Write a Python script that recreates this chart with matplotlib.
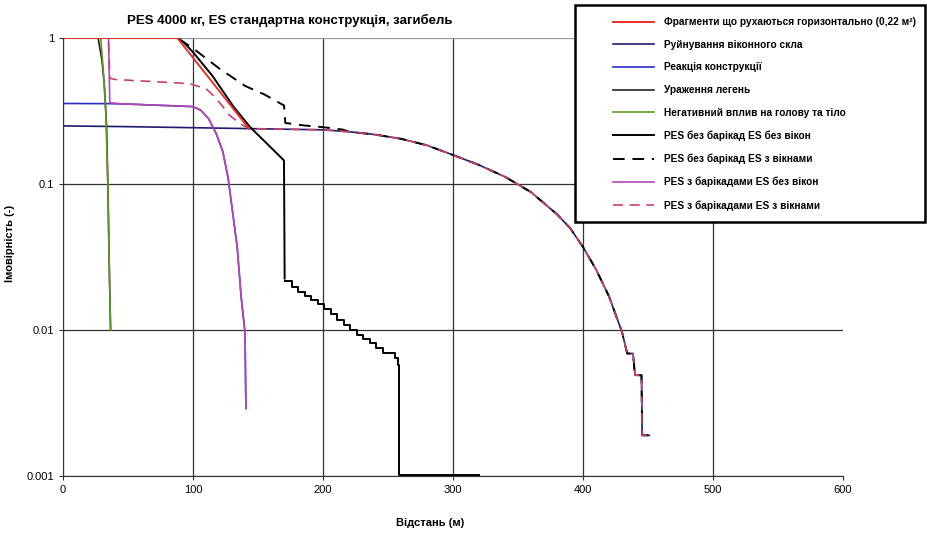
import matplotlib.pyplot as plt
from matplotlib.patches import Rectangle

plt.rcParams['font.family'] = ['Liberation Sans', 'DejaVu Sans']

title = "PES 4000 кг, ES стандартна конструкція, загибель"
labels = ["Фрагменти що рухаються горизонтально (0,22 м²)",
          "Руйнування віконного скла",
          "Реакція конструкції",
          "Ураження легень",
          "Негативний вплив на голову та тіло",
          "PES без барікад ES без вікон",
          "PES без барікад ES з вікнами",
          "PES з барікадами ES без вікон",
          "PES з барікадами ES з вікнами"]

# distance (m) / probability (-)
frag_x = [0, 88, 143]
frag_p = [1, 1, 0.24]

glass_x = [0, 50, 100, 150, 200, 220, 240, 260, 280, 300, 320, 340, 360, 380, 390,
           400, 410, 420, 430, 434, 438.5, 440, 445, 445.5, 451]
glass_p = [0.25, 0.247, 0.243, 0.239, 0.235, 0.228, 0.218, 0.204, 0.184, 0.158, 0.135,
           0.112, 0.088, 0.062, 0.05, 0.037, 0.026, 0.017, 0.0097, 0.0069, 0.0069,
           0.0049, 0.0049, 0.0019, 0.0019]

struct_x = [0, 36, 45, 100, 106, 112, 118, 123, 127, 131, 134, 137, 140, 140.7]
struct_p = [0.356, 0.355, 0.354, 0.339, 0.32, 0.28, 0.22, 0.166, 0.11, 0.059, 0.037,
            0.017, 0.0096, 0.0029]

lung_x = [0, 27, 30, 32, 33.5, 34.5, 35.5, 36.6]
lung_p = [1, 1, 0.7, 0.45, 0.25, 0.1, 0.03, 0.01]

head_x = [29, 31, 33, 34.5, 35.5, 36.6]
head_p = [1, 0.6, 0.3, 0.1, 0.03, 0.01]

nobar_nowin_x = [0, 88, 93, 100, 115, 131, 144, 170, 170.5]
nobar_nowin_p = [1, 1, 0.93, 0.8, 0.55, 0.34, 0.245, 0.145, 0.0225]
stair_x = [170.5, 176, 181, 186, 191, 196, 201, 206, 211, 216, 221, 226, 231, 236,
           241, 246, 255, 257.5, 258.3, 320]
stair_p = [0.0215, 0.0198, 0.0183, 0.017, 0.016, 0.015, 0.014, 0.0128, 0.0117,
           0.0108, 0.01, 0.0093, 0.0087, 0.0081, 0.0075, 0.007, 0.0064, 0.0058,
           0.00101, 0.00101]

nobar_win_x = [0, 88, 100, 120, 140, 155, 170, 171, 185, 200, 215]
nobar_win_p = [1, 1, 0.85, 0.62, 0.47, 0.41, 0.345, 0.262, 0.252, 0.245, 0.236]

bar_nowin_x = [0, 35, 36] + struct_x[2:]
bar_nowin_p = [1, 1, 0.36] + struct_p[2:]

bar_win_x = [0, 35, 36, 40, 97, 110, 118, 128, 136, 143]
bar_win_p = [1, 1, 0.53, 0.52, 0.487, 0.45, 0.385, 0.296, 0.26, 0.24]

# dashed curves follow the glass curve further out
tail_a = [(x, p) for x, p in zip(glass_x, glass_p) if x >= 220]
tail_b = [(x, p) for x, p in zip(glass_x, glass_p) if x >= 150]
nobar_win_x = nobar_win_x + [t[0] for t in tail_a]
nobar_win_p = nobar_win_p + [t[1] for t in tail_a]
bar_win_x = bar_win_x + [t[0] for t in tail_b]
bar_win_p = bar_win_p + [t[1] for t in tail_b]

fig = plt.figure(figsize=(9.27, 5.35), dpi=100)
ax = fig.add_axes([63/927, 1-476/535, 780/927, 438/535])

lw = 1.2
ax.plot(glass_x, glass_p, color='#1c1c70', lw=lw, label=labels[1])
ax.plot(struct_x, struct_p, color='#2a2ac8', lw=lw, label=labels[2])
ax.plot(lung_x, lung_p, color='#222222', lw=lw, label=labels[3])
ax.plot(head_x, head_p, color='#5d9a1e', lw=lw, label=labels[4])
ax.plot(nobar_nowin_x, nobar_nowin_p, color='black', lw=1.4, label=labels[5])
ax.plot(stair_x, stair_p, color='black', lw=1.4, drawstyle='steps-post')
ax.plot(bar_nowin_x, bar_nowin_p, color='#b548b0', lw=lw, label=labels[7])
ax.plot(nobar_win_x, nobar_win_p, color='black', lw=1.4, ls=(0, (6, 4)), label=labels[6])
ax.plot(bar_win_x, bar_win_p, color='#c8406e', lw=lw, ls=(0, (6, 4)), label=labels[8])
ax.plot(frag_x, frag_p, color='#e8302a', lw=1.4, label=labels[0])

ax.set_yscale('log')
ax.set_xlim(0, 600)
ax.set_ylim(0.001, 1)
ax.set_xticks(range(0, 601, 100))
ax.set_yticks([0.001, 0.01, 0.1, 1])
ax.set_yticklabels(['0.001', '0.01', '0.1', '1'])
ax.minorticks_off()
ax.tick_params(labelsize=8, length=3, color='#333333')
ax.grid(True, color='#333333', lw=0.9)
ax.xaxis.get_gridlines()[-1].set_visible(False)
ax.yaxis.get_gridlines()[-1].set_color('#999999')
for s in ['top', 'right']:
    ax.spines[s].set_visible(False)
ax.spines['left'].set_color('#333333')
ax.spines['bottom'].set_color('#333333')
ax.set_ylabel("Імовірність (-)", fontsize=8, fontweight='bold')
ax.yaxis.set_label_coords(-0.062, 0.53)

fig.text(0.313, 0.962, title, fontsize=9.5, fontweight='bold', ha='center', va='center')
fig.text(0.464, 0.022, "Відстань (м)", fontsize=8, fontweight='bold', ha='center', va='center')

# legend box
fig.patches.append(Rectangle((575/927, 1-222/535), 350/927, 217/535, transform=fig.transFigure,
                             fill=True, facecolor='white', edgecolor='black', lw=1.8, zorder=5))
handles, labs = ax.get_legend_handles_labels()
order = [labs.index(l) for l in labels]
leg = fig.legend([handles[i] for i in order], [labs[i] for i in order],
                 loc='upper left', bbox_to_anchor=(604/927, 1-8/535), frameon=False,
                 prop={'size': 7.3, 'weight': 'bold'}, handlelength=4, handletextpad=1.0,
                 labelspacing=1.25)
leg.set_zorder(6)

fig.savefig('out.png', dpi=100)
